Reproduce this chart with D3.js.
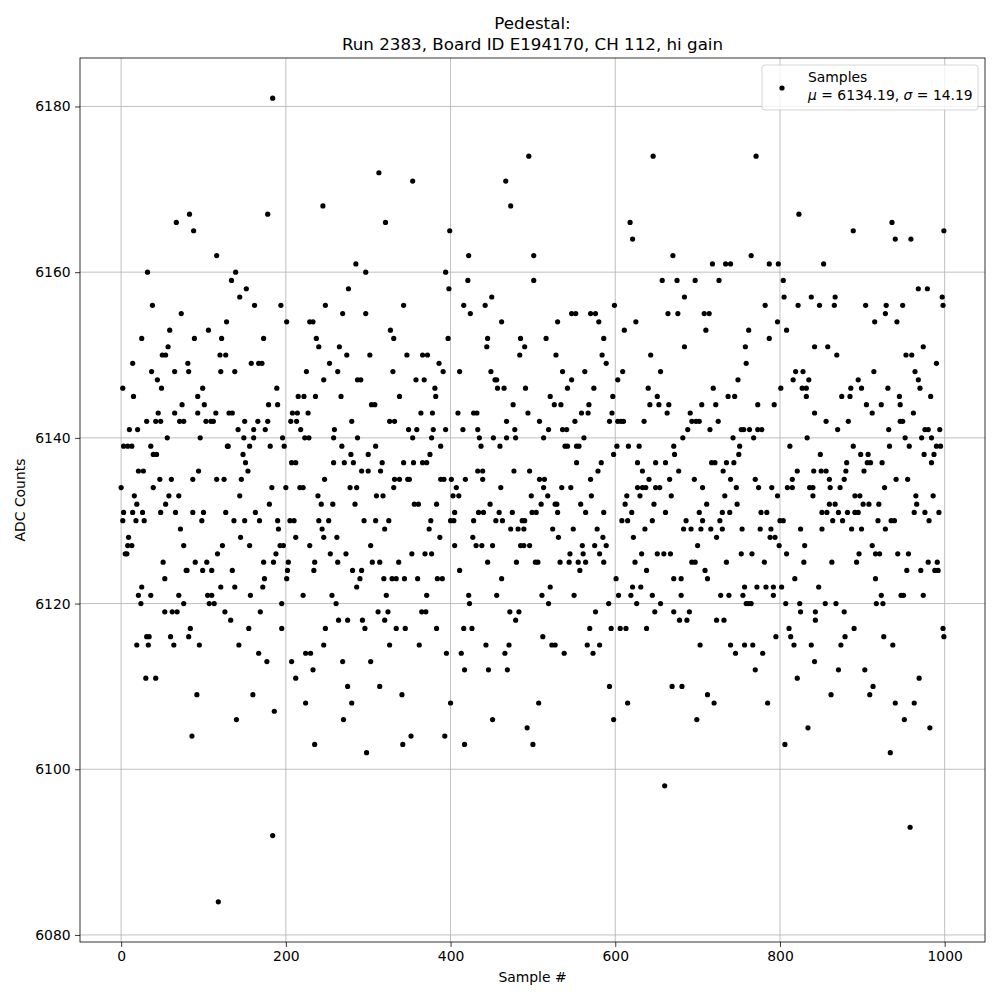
<!DOCTYPE html>
<html>
<head>
<meta charset="utf-8">
<script src="https://cdn.jsdelivr.net/npm/d3@7"></script>
<style>
  body { margin: 0; background: #fff; }
  text { font-family: "DejaVu Sans", sans-serif; fill: #000; }
</style>
</head>
<body>
<div id="chart"></div>
<script>
// sample index and ADC value of each plotted point, grouped by strips of ~85 samples
const sampleNo = [
  67,32,38,73,25,59,57,50,54,14,37,65,44,2,15,49,45,65,74,10,20,31,42,48,71,76,56,3,8,13,36,39,43,21,27,47,61,0,39,16,58,70,19,54,3,14,26,48,66,2,18,28,72,9,8,13,76,5,7,51,53,25,21,36,70,24,76,53,62,68,31,34,60,19,33,64,30,42,
  83,88,116,139,134,152,144,162,128,106,89,122,120,127,81,158,82,121,138,99,93,101,93,115,131,135,103,109,112,150,142,161,96,149,161,129,130,156,148,151,154,94,87,116,125,146,144,87,100,127,163,98,137,150,145,123,156,117,90,104,79,80,99,110,135,121,138,105,110,157,107,113,126,133,84,155,82,95,143,92,160,140,86,118,
  184,245,178,194,248,201,229,233,173,237,240,167,171,225,246,189,215,222,236,179,190,208,214,227,166,178,206,213,175,218,196,223,228,181,198,207,212,247,183,200,217,221,239,180,243,168,190,205,210,240,191,244,212,246,193,197,229,188,173,185,203,235,202,234,174,201,172,221,195,169,195,248,246,167,224,230,177,207,233,212,224,186,235,184,
  313,321,285,297,276,269,297,327,331,265,274,302,253,263,330,287,291,267,304,308,280,326,332,259,258,287,268,309,279,300,258,271,282,317,292,300,315,332,278,286,331,310,318,257,284,320,252,295,309,325,262,303,254,273,263,305,314,281,292,290,319,329,334,286,256,322,261,312,324,264,275,293,320,296,334,326,269,303,275,314,280,270,298,
  354,399,394,398,343,416,397,347,366,372,386,391,411,358,368,381,382,338,364,378,409,349,359,379,394,354,377,415,388,375,343,355,366,371,338,348,350,388,392,401,418,407,403,410,356,361,383,405,376,400,404,374,387,405,353,369,377,337,411,344,360,384,390,371,365,370,345,383,416,362,395,413,417,341,400,352,342,393,417,
  495,467,473,422,501,421,501,450,442,424,462,445,485,444,490,484,449,454,456,457,465,491,476,428,432,494,468,433,478,435,452,468,479,437,460,433,439,477,496,439,461,498,448,434,440,459,475,499,504,428,455,463,487,490,473,482,489,427,431,438,451,485,489,496,445,480,462,422,456,423,472,483,479,426,443,471,466,446,469,451,493,500,
  547,552,570,576,580,530,516,586,528,584,589,536,563,547,542,574,521,526,534,568,559,567,508,551,519,536,541,513,562,539,542,553,556,553,583,579,508,514,570,513,535,546,510,518,527,529,558,571,530,564,586,549,578,524,531,585,560,589,575,545,561,581,503,506,533,544,555,564,586,557,521,511,550,519,576,569,512,523,527,566,581,538,573,507,
  646,618,621,670,657,599,664,625,611,643,603,609,655,597,640,651,596,642,653,665,663,593,603,607,610,635,602,616,629,671,598,672,627,649,661,633,666,641,627,633,637,649,654,614,630,668,612,647,620,661,608,615,645,636,622,632,651,659,667,624,638,601,671,621,631,604,619,645,592,626,655,648,671,595,606,613,638,593,669,615,598,660,
  718,734,740,675,697,726,684,676,708,714,710,684,758,759,749,719,737,745,691,705,722,688,693,698,702,725,715,753,756,682,743,751,750,677,717,721,735,744,731,740,696,706,747,711,748,733,702,730,739,686,706,727,683,692,704,716,730,754,723,700,753,693,697,735,709,680,712,757,680,728,738,755,759,690,678,687,723,732,703,740,757,746,681,712,720,699,
  771,823,765,787,798,804,805,838,782,822,797,762,808,787,842,819,828,816,835,827,832,801,832,773,793,842,763,773,778,768,833,812,821,815,770,841,774,790,809,815,836,840,797,840,777,784,776,789,825,800,804,788,794,799,830,766,808,781,829,818,772,783,792,802,792,762,765,807,824,825,843,843,811,795,813,767,817,838,779,770,821,842,785,834,806,
  889,853,867,848,866,904,929,928,915,858,869,914,895,886,899,875,885,905,923,912,856,883,870,849,889,898,907,881,906,910,924,850,856,880,902,860,878,861,873,927,891,897,860,867,901,908,920,851,857,871,882,891,895,864,876,919,851,887,899,928,912,896,916,921,863,893,916,847,923,855,868,917,925,878,890,879,926,874,871,903,913,862,909,
  936,940,959,999,968,979,997,949,998,942,953,960,974,990,964,968,970,931,945,983,946,962,946,949,932,976,980,994,933,957,952,972,984,990,995,975,987,984,941,955,965,986,966,963,976,993,981,935,939,943,956,980,991,954,971,988,992,947,950,974,998,999,937,969,940,963,951,982,934,958
];
const adcCounts = [
  6166,6160,6156,6155,6152,6153,6151,6150,6150,6149,6148,6148,6147,6146,6145,6146,6143,6143,6144,6141,6141,6142,6142,6142,6142,6142,6140,6139,6139,6139,6139,6138,6138,6136,6136,6135,6135,6134,6134,6133,6133,6133,6132,6132,6131,6131,6131,6131,6131,6130,6130,6130,6129,6128,6127,6127,6127,6126,6126,6125,6123,6122,6121,6121,6121,6120,6120,6119,6119,6119,6116,6116,6116,6115,6115,6115,6111,6111,
  6167,6165,6162,6160,6159,6158,6157,6156,6154,6153,6152,6152,6150,6150,6149,6149,6148,6148,6148,6146,6145,6144,6143,6143,6143,6143,6142,6142,6142,6142,6141,6141,6140,6140,6140,6139,6139,6139,6138,6137,6136,6136,6135,6135,6135,6135,6133,6131,6131,6131,6131,6130,6130,6130,6128,6127,6127,6126,6125,6125,6124,6124,6124,6124,6124,6122,6122,6121,6121,6121,6120,6120,6119,6118,6117,6117,6116,6115,6115,6109,6109,6106,6104,6084,
  6181,6168,6167,6156,6156,6154,6154,6154,6152,6152,6151,6149,6149,6148,6147,6146,6145,6145,6145,6144,6144,6143,6143,6143,6142,6142,6142,6142,6141,6141,6140,6140,6140,6139,6139,6137,6137,6135,6134,6134,6134,6134,6133,6132,6132,6130,6130,6130,6130,6130,6129,6129,6128,6128,6127,6127,6127,6126,6125,6125,6125,6125,6124,6124,6123,6123,6122,6121,6120,6119,6117,6117,6115,6114,6114,6114,6113,6113,6112,6111,6108,6107,6103,6092,
  6172,6166,6161,6160,6158,6155,6155,6153,6152,6151,6150,6150,6149,6148,6148,6147,6147,6145,6144,6144,6142,6142,6142,6141,6140,6140,6139,6139,6138,6138,6137,6137,6137,6137,6136,6136,6136,6135,6134,6134,6134,6133,6133,6132,6132,6129,6130,6130,6130,6130,6128,6127,6126,6126,6125,6125,6125,6124,6124,6123,6123,6123,6123,6122,6121,6121,6120,6119,6119,6118,6118,6118,6118,6117,6117,6115,6113,6113,6110,6110,6108,6106,6102,
  6171,6165,6160,6158,6156,6156,6152,6150,6150,6150,6149,6148,6148,6147,6147,6146,6145,6145,6143,6143,6143,6141,6141,6141,6141,6140,6140,6141,6139,6138,6137,6137,6137,6137,6135,6135,6135,6135,6135,6135,6135,6134,6133,6133,6132,6132,6132,6131,6130,6130,6130,6129,6128,6127,6126,6126,6126,6125,6124,6123,6123,6123,6123,6121,6119,6119,6117,6117,6117,6115,6114,6114,6112,6109,6108,6104,6103,6104,6103,
  6174,6171,6168,6162,6162,6159,6159,6157,6156,6155,6154,6152,6152,6151,6151,6150,6148,6147,6147,6146,6146,6146,6144,6143,6143,6143,6142,6141,6141,6140,6140,6140,6140,6139,6139,6136,6136,6136,6136,6135,6134,6133,6132,6131,6131,6131,6131,6131,6131,6130,6130,6130,6130,6130,6129,6129,6129,6128,6127,6127,6127,6127,6127,6127,6125,6125,6123,6121,6121,6120,6119,6119,6118,6117,6115,6115,6114,6112,6112,6106,6105,6103,
  6155,6155,6155,6155,6154,6154,6152,6152,6150,6150,6149,6148,6148,6147,6146,6146,6145,6144,6144,6144,6143,6143,6142,6142,6141,6141,6141,6140,6140,6139,6139,6139,6139,6137,6137,6136,6135,6135,6135,6134,6134,6134,6132,6133,6132,6132,6132,6133,6131,6131,6131,6129,6129,6129,6128,6128,6127,6127,6127,6126,6126,6126,6125,6125,6125,6125,6125,6125,6125,6124,6122,6121,6121,6120,6119,6117,6116,6115,6115,6115,6115,6114,6114,6108,
  6174,6166,6164,6162,6159,6156,6155,6154,6153,6150,6147,6148,6148,6145,6146,6145,6143,6144,6144,6144,6143,6142,6142,6142,6142,6142,6139,6139,6139,6139,6138,6138,6137,6137,6137,6136,6135,6135,6134,6134,6134,6134,6134,6133,6133,6133,6132,6132,6131,6131,6130,6130,6130,6129,6128,6126,6126,6126,6126,6125,6124,6123,6123,6122,6122,6121,6121,6121,6120,6120,6120,6119,6119,6117,6117,6117,6117,6110,6110,6108,6106,6098,
  6161,6161,6161,6159,6159,6159,6157,6155,6155,6155,6153,6151,6151,6149,6147,6146,6145,6145,6143,6144,6144,6141,6142,6142,6142,6142,6141,6141,6141,6140,6140,6139,6138,6136,6137,6137,6137,6137,6136,6135,6135,6134,6134,6132,6132,6133,6131,6131,6131,6130,6130,6130,6129,6129,6129,6129,6129,6129,6128,6127,6126,6125,6125,6125,6124,6123,6123,6122,6121,6121,6121,6121,6120,6119,6118,6118,6118,6118,6115,6115,6115,6114,6110,6109,6108,6106,
  6174,6167,6162,6161,6161,6159,6157,6157,6156,6156,6154,6153,6153,6152,6151,6148,6148,6147,6147,6146,6146,6146,6145,6144,6144,6143,6141,6141,6141,6140,6140,6139,6136,6135,6135,6136,6134,6134,6134,6134,6134,6134,6133,6133,6131,6131,6129,6129,6129,6130,6130,6128,6128,6127,6127,6126,6126,6125,6125,6123,6122,6122,6122,6122,6121,6120,6120,6120,6120,6119,6119,6118,6117,6116,6116,6115,6115,6115,6114,6112,6111,6113,6108,6105,6103,
  6165,6161,6157,6156,6156,6156,6156,6155,6154,6151,6150,6148,6147,6146,6146,6145,6145,6144,6144,6143,6142,6142,6141,6138,6139,6138,6138,6137,6137,6137,6137,6136,6136,6136,6136,6135,6135,6134,6134,6134,6133,6133,6132,6132,6132,6132,6132,6131,6131,6131,6131,6131,6131,6130,6130,6130,6129,6129,6129,6129,6127,6126,6126,6126,6125,6125,6123,6122,6121,6120,6120,6120,6120,6119,6117,6116,6116,6115,6112,6112,6110,6109,6109,
  6166,6164,6164,6165,6158,6158,6157,6156,6156,6154,6150,6150,6151,6149,6148,6147,6146,6146,6145,6145,6144,6143,6142,6142,6141,6141,6141,6141,6139,6139,6140,6140,6140,6139,6139,6138,6138,6137,6135,6135,6133,6133,6132,6131,6131,6131,6130,6130,6130,6126,6126,6125,6125,6124,6124,6124,6124,6121,6121,6121,6117,6116,6115,6111,6108,6108,6106,6105,6102,6093
];
const xTicks = [0, 200, 400, 600, 800, 1000];
const yTicks = [6080, 6100, 6120, 6140, 6160, 6180];
const titleLines = ["Pedestal:", "Run 2383, Board ID E194170, CH 112, hi gain"];
const legendLabel = "Samples";
const mu = "6134.19", sigma = "14.19";

const width = 1000, height = 1000;
const margin = { top: 58, right: 15, bottom: 58, left: 80 };

const svg = d3.select("#chart").append("svg")
  .attr("width", width).attr("height", height);

const x = d3.scaleLinear().domain([-49.95, 1048.95]).range([margin.left, width - margin.right]);
const y = d3.scaleLinear().domain([6079.15, 6185.85]).range([height - margin.bottom, margin.top]);

// grid
svg.append("g").selectAll("line").data(xTicks).enter().append("line")
  .attr("x1", d => x(d)).attr("x2", d => x(d))
  .attr("y1", margin.top).attr("y2", height - margin.bottom)
  .attr("stroke", "#b0b0b0").attr("stroke-width", 0.8);
svg.append("g").selectAll("line").data(yTicks).enter().append("line")
  .attr("y1", d => y(d)).attr("y2", d => y(d))
  .attr("x1", margin.left).attr("x2", width - margin.right)
  .attr("stroke", "#b0b0b0").attr("stroke-width", 0.8);

// points
const pts = sampleNo.map((s, i) => ({ s: s, v: adcCounts[i] }));
svg.append("g").selectAll("circle").data(pts).enter().append("circle")
  .attr("cx", d => x(d.s)).attr("cy", d => y(d.v))
  .attr("r", 2.6).attr("fill", "#000");

// axes
const xAxis = svg.append("g")
  .attr("transform", `translate(0,${height - margin.bottom})`)
  .call(d3.axisBottom(x).tickValues(xTicks).tickFormat(d3.format("d")).tickSize(4.9).tickPadding(4.5));
const yAxis = svg.append("g")
  .attr("transform", `translate(${margin.left},0)`)
  .call(d3.axisLeft(y).tickValues(yTicks).tickFormat(d3.format("d")).tickSize(4.9).tickPadding(4.5));
[xAxis, yAxis].forEach(g => {
  g.select(".domain").remove();
  g.selectAll("line").attr("stroke-width", 0.8);
  g.selectAll("text").style("font-family", "DejaVu Sans").style("font-size", "13.9px");
});

// frame
svg.append("rect")
  .attr("x", margin.left).attr("y", margin.top)
  .attr("width", width - margin.left - margin.right)
  .attr("height", height - margin.top - margin.bottom)
  .attr("fill", "none").attr("stroke", "#000").attr("stroke-width", 0.8);

// titles and labels
const cx = (margin.left + width - margin.right) / 2;
svg.append("text").attr("x", cx).attr("y", 29).attr("text-anchor", "middle")
  .style("font-size", "16.7px").text(titleLines[0]);
svg.append("text").attr("x", cx).attr("y", 50).attr("text-anchor", "middle")
  .style("font-size", "16.7px").text(titleLines[1]);
svg.append("text").attr("x", cx).attr("y", 982).attr("text-anchor", "middle")
  .style("font-size", "13.9px").text("Sample #");
svg.append("text").attr("transform", `translate(25,${(margin.top + height - margin.bottom) / 2}) rotate(-90)`)
  .attr("text-anchor", "middle").style("font-size", "13.9px").text("ADC Counts");

// legend
const lg = svg.append("g");
lg.append("rect").attr("x", 762).attr("y", 65).attr("width", 216).attr("height", 45)
  .attr("rx", 3).attr("fill", "#fff").attr("fill-opacity", 0.8)
  .attr("stroke", "#cccccc").attr("stroke-width", 0.8);
lg.append("circle").attr("cx", 782).attr("cy", 88).attr("r", 2.6).attr("fill", "#000");
lg.append("text").attr("x", 808).attr("y", 82).style("font-size", "13.9px").text(legendLabel);
const t2 = lg.append("text").attr("x", 808).attr("y", 100).style("font-size", "13.9px");
t2.append("tspan").style("font-style", "italic").text("μ");
t2.append("tspan").text(` = ${mu}, `);
t2.append("tspan").style("font-style", "italic").text("σ");
t2.append("tspan").text(` = ${sigma}`);
</script>
</body>
</html>
